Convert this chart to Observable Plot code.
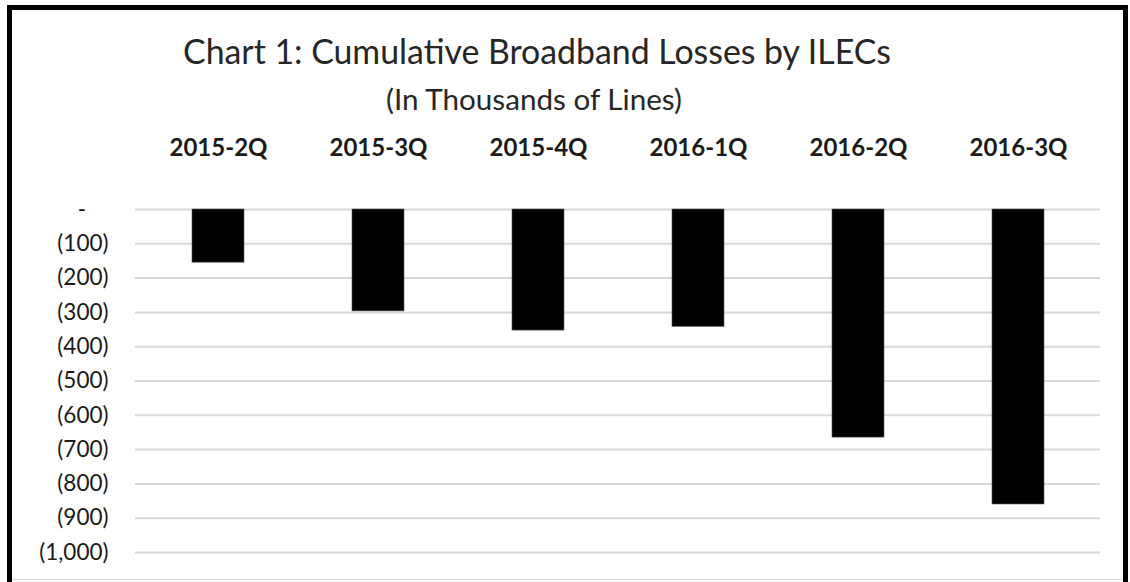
<!DOCTYPE html>
<html>
<head>
<meta charset="utf-8">
<script src="https://cdn.jsdelivr.net/npm/d3@7"></script>
<script src="https://cdn.jsdelivr.net/npm/@observablehq/plot@0.6"></script>
<style>
  html, body { margin: 0; padding: 0; background: #fff; width: 1130px; height: 582px; overflow: hidden; }
  #wrap { position: relative; width: 1130px; height: 582px; font-family: Lato, "Open Sans", sans-serif; }
  #frame { position: absolute; left: 7px; top: 5px; width: 1121px; height: 600px; box-sizing: border-box; border: 5px solid #000; }
  #bottomline { position: absolute; left: 12px; top: 579px; width: 1111px; height: 1px; background: #d9d9d9; }
  .ttl { position: absolute; white-space: nowrap; line-height: 1; color: #262626; }
  #chart { position: absolute; left: 0; top: 120px; }
</style>
</head>
<body>
<div id="wrap">
  <div id="frame"></div>
  <div id="bottomline"></div>
  <div class="ttl" id="title">Chart 1: Cumulative Broadband Losses by ILECs</div>
  <div class="ttl" id="subtitle">(In Thousands of Lines)</div>
  <div id="chart"></div>
</div>
<script>
// ---- data ----
const quarters = ["2015-2Q", "2015-3Q", "2015-4Q", "2016-1Q", "2016-2Q", "2016-3Q"];
const losses = [-155, -297, -353, -342, -665, -860];
const yTicks = [0, -100, -200, -300, -400, -500, -600, -700, -800, -900, -1000];

const rows = quarters.map((q, i) => ({quarter: q, value: losses[i]}));

const fmt = d => d === 0 ? "-\u2002\u2002" : "(" + d3.format(",")(Math.abs(d)) + ")";

const chart = Plot.plot({
  width: 1130,
  height: 455,
  marginTop: 89,
  marginBottom: 23,
  marginLeft: 135,
  marginRight: 30,
  style: {fontFamily: "Lato, 'Open Sans', sans-serif", color: "#1a1a1a", background: "transparent"},
  x: {domain: quarters, paddingInner: 0.677, paddingOuter: 0.3385, label: null},
  y: {domain: [-1000, 0], label: null},
  marks: [
    Plot.ruleY(yTicks, {stroke: "#d9d9d9", strokeWidth: 2}),
    Plot.barY(rows, {x: "quarter", y1: 0, y2: "value", fill: "#000", stroke: "#555", strokeWidth: 0.6}),
    Plot.axisY({ticks: yTicks, tickFormat: fmt, tickSize: 0, tickPadding: 27, fontSize: 22.5, label: null}),
    Plot.axisX({anchor: "top", tickSize: 0, tickPadding: 54, fontSize: 24, fontWeight: "bold", label: null})
  ]
});
document.getElementById("chart").appendChild(chart);

// fit title texts to the reference widths and centers
function fit(id, fs, targetW, centerX, top) {
  const el = document.getElementById(id);
  el.style.fontSize = fs + "px";
  const w = el.getBoundingClientRect().width;
  const nfs = fs * targetW / w;
  el.style.fontSize = nfs + "px";
  const w2 = el.getBoundingClientRect().width;
  el.style.left = (centerX - w2 / 2) + "px";
  el.style.top = top + "px";
}
fit("title", 32, 708, 537, 35);
fit("subtitle", 24, 296, 534, 84);
</script>
</body>
</html>
